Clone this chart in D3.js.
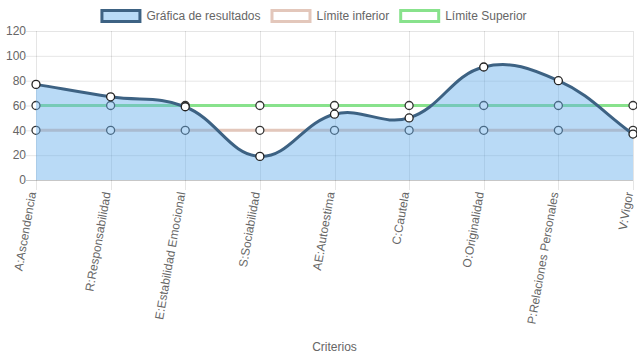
<!DOCTYPE html>
<html><head><meta charset="utf-8">
<script src="https://cdn.jsdelivr.net/npm/d3@7"></script>
<style>body{margin:0;background:#fff}svg{display:block;font-family:"Liberation Sans",Arial,Helvetica,sans-serif}</style>
</head><body><svg id="c" width="637" height="359"></svg>
<script>
const categories = ["A:Ascendencia","R:Responsabilidad","E:Estabilidad Emocional","S:Sociabilidad","AE:Autoestima","C:Cautela","O:Originalidad","P:Relaciones Personales","V:Vigor"];
const resultados = [77,67,59,19,53,50,91,80,37];
const limiteInferior = [40,40,40,40,40,40,40,40,40];
const limiteSuperior = [60,60,60,60,60,60,60,60,60];
const yTicks = [0,20,40,60,80,100,120];
const seriesNames = ["Gráfica de resultados","Límite inferior","Límite Superior"];
const xTitle = "Criterios";

const svg = d3.select("#c");
const L = 36, R = 633, T = 31, B = 180;
const x = d3.scalePoint().domain(categories).range([L, R]);
const y = d3.scaleLinear().domain([0,120]).range([B, T]);
const txt = "#666";

// grid
const g = svg.append("g");
yTicks.forEach(v => {
  g.append("line").attr("x1", L-10).attr("x2", R).attr("y1", y(v)+0.5).attr("y2", y(v)+0.5)
   .attr("stroke", v===0 ? "rgba(0,0,0,0.22)" : "rgba(0,0,0,0.1)");
  g.append("text").attr("x", 26).attr("y", y(v)).attr("dy","0.35em").attr("text-anchor","end")
   .attr("font-size", 12).attr("fill", txt).text(v);
});
categories.forEach(c => {
  g.append("line").attr("x1", Math.round(x(c))+0.5).attr("x2", Math.round(x(c))+0.5).attr("y1", T).attr("y2", B+10)
   .attr("stroke", "rgba(0,0,0,0.1)");
  g.append("text").attr("transform", `translate(${x(c)-4},${B+12}) rotate(-80)`)
   .attr("text-anchor","end").attr("dy","0.35em").attr("font-size",12).attr("fill",txt).text(c);
});
svg.append("text").attr("x",(L+R)/2).attr("y",351).attr("text-anchor","middle").attr("font-size",12).attr("fill",txt).text(xTitle);

// Chart.js style spline
function spline(vals, t) {
  const pts = vals.map((v,i) => ({x: x(categories[i]), y: y(v)}));
  const cap = (p) => { p.x = Math.max(L, Math.min(R, p.x)); p.y = Math.max(T, Math.min(B, p.y)); };
  pts.forEach((cur,i) => {
    const prev = pts[i-1] || cur, next = pts[i+1] || cur;
    const d01 = Math.hypot(cur.x-prev.x, cur.y-prev.y), d12 = Math.hypot(next.x-cur.x, next.y-cur.y);
    let s01 = d01/(d01+d12), s12 = d12/(d01+d12);
    if (isNaN(s01)) s01 = 0; if (isNaN(s12)) s12 = 0;
    const fa = t*s01, fb = t*s12;
    cur.c1 = {x: cur.x - fa*(next.x-prev.x), y: cur.y - fa*(next.y-prev.y)};
    cur.c2 = {x: cur.x + fb*(next.x-prev.x), y: cur.y + fb*(next.y-prev.y)};
    cap(cur.c1); cap(cur.c2);
  });
  let d = `M${pts[0].x},${pts[0].y}`;
  for (let i=1;i<pts.length;i++) {
    const p = pts[i-1], c = pts[i];
    d += `C${p.c2.x},${p.c2.y},${c.c1.x},${c.c1.y},${c.x},${c.y}`;
  }
  return {d, pts};
}

function drawSeries(vals, stroke, fill, ptFill, ptStroke) {
  const s = spline(vals, 0.4);
  if (fill) {
    svg.append("path").attr("d", s.d + `L${s.pts[s.pts.length-1].x},${y(0)}L${s.pts[0].x},${y(0)}Z`).attr("fill", fill);
  }
  svg.append("path").attr("d", s.d).attr("fill","none").attr("stroke", stroke).attr("stroke-width", 3);
  svg.append("g").selectAll("circle").data(vals).join("circle")
    .attr("cx",(v,i)=>x(categories[i])).attr("cy",v=>y(v)).attr("r",4)
    .attr("fill",ptFill).attr("stroke",ptStroke).attr("stroke-width",1.3);
}
const colSup = "#88e28c", colInf = "#e3c7bb", colRes = "#3d6283", fillRes = "rgba(100,172,235,0.45)";
drawSeries(limiteSuperior, colSup, null, "#fff", "#333");
drawSeries(limiteInferior, colInf, null, "#fff", "#333");
drawSeries(resultados, colRes, fillRes, "#fff", "#222");

// legend
const legend = svg.append("g");
const items = [
  {name: seriesNames[0], fill: "#b9dbf7", stroke: colRes},
  {name: seriesNames[1], fill: "#fff", stroke: colInf},
  {name: seriesNames[2], fill: "#fff", stroke: colSup}
];
const widths = items.map(it => {
  const t = legend.append("text").attr("font-size",12).text(it.name);
  const w = t.node().getComputedTextLength(); t.remove(); return w;
});
const total = d3.sum(widths, w => 40 + 6 + w + 10);
let cx = 318.5 - total/2;
items.forEach((it,i) => {
  legend.append("rect").attr("x", cx+1.5).attr("y", 10.5).attr("width", 38).attr("height", 11)
    .attr("fill", it.fill).attr("stroke", it.stroke).attr("stroke-width", 3);
  legend.append("text").attr("x", cx+46).attr("y", 16).attr("dy","0.35em").attr("font-size",12).attr("fill",txt).text(it.name);
  cx += 40 + 6 + widths[i] + 10;
});
</script></body></html>
